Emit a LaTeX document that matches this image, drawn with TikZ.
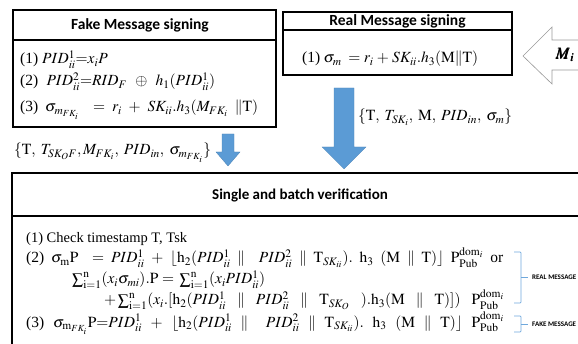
\documentclass[tikz,border=0pt]{standalone}
\usepackage{amsmath}
\usepackage{mathptmx}
\usepackage{bm}
\usepackage{fontspec}
\setmainfont{Liberation Serif}
\newfontfamily\titlefont{Carlito}
\usetikzlibrary{positioning}

\definecolor{arrowblue}{HTML}{5B9BD5}
\definecolor{braceblue}{HTML}{6FA8DC}

% one text line spread over a given width
\newcommand\spreadline[2]{\hbox to #1{#2}}
\newcommand\G{\hskip 1pt plus 1fil}

\tikzset{
  thinbox/.style={draw=black, line width=1.3pt},
  thickbox/.style={draw=black, line width=2.4pt},
  boxtitle/.style={inner sep=0pt, font=\titlefont\bfseries\fontsize{15.5}{17}\selectfont},
  steptext/.style={anchor=base west, inner sep=0pt, font=\fontsize{14.5}{16}\selectfont},
  mathline/.style={steptext, font=\fontsize{15.5}{17}\selectfont},
  bluearrow/.style={fill=arrowblue, draw=arrowblue!85!black, line width=0.3pt},
  msgbrace/.style={draw=braceblue, line width=0.7pt, rounded corners=1pt},
  msglabel/.style={anchor=west, inner sep=0pt, font=\titlefont\bfseries\fontsize{7}{8}\selectfont}
}

\begin{document}
\begin{tikzpicture}[x=1pt, y=-1pt]
\useasboundingbox (0,0) rectangle (578,344);
% ---- fake message signing ----
\draw[thinbox, line width=1.8pt] (13,10) rectangle (276,127);
\draw[thinbox] (13,40) -- (276,40);
\node[boxtitle] (faketitle) at (140,25) {Fake Message signing};
\node[mathline] (fake1) at (20,64) {(1) $PID_{ii}^{1}{=}x_iP$};
\node[mathline] (fake2) at (20,86) {\spreadline{195pt}{(2)\G$PID_{ii}^{2}{=}RID_F\G{\oplus}\G h_1(PID_{ii}^{1})$}};
\node[mathline] (fake3) at (20,112) {\spreadline{238pt}{(3)\G$\sigma_{m_{FK_i}}\G\G{=}\G r_i\G{+}\G SK_{ii}.h_3(M_{FK_i}\G\|\mathrm{T})$}};
% ---- real message signing ----
\draw[thinbox] (283,12) rectangle (512,75);
\draw[thinbox] (283,30) -- (512,30);
\node[boxtitle] (realtitle) at (397.5,21) {Real Message signing};
\node[mathline] (real1) at (302,63) {\spreadline{176pt}{(1)\G$\sigma_m\G\G{=}\G r_i\G{+}\G SK_{ii}.h_3(\mathrm{M}\|\mathrm{T})$}};
% ---- incoming message ----
\draw[draw=gray!80, fill=white, line width=0.6pt]
  (590,40) -- (552,40) -- (552,27) -- (523,56) -- (552,84) -- (552,70) -- (590,70);
\node[inner sep=0pt, font=\fontsize{16}{18}\selectfont] (msg) at (565,55) {$\bm{M_i}$};
% ---- transmitted tuples ----
\filldraw[bluearrow] (222,134) -- (234,134) -- (234,152) -- (240,152)
  -- (228,166) -- (216,152) -- (222,152) -- cycle;
\filldraw[bluearrow] (334,88) -- (354,88) -- (354,147) -- (366,147)
  -- (344,169) -- (322,147) -- (334,147) -- cycle;
\node[mathline] (realtuple) at (358,121) {\spreadline{154pt}{$\{\mathrm{T},\G T_{SK_i},\G\mathrm{M},\G PID_{in},\G\sigma_m\}$}};
\node[mathline] (faketuple) at (14,155) {\spreadline{197pt}{$\{\mathrm{T},\G T_{SK_OF},M_{FK_i},\G PID_{in},\G\sigma_{m_{FK_i}}\}$}};
% ---- verification ----
\draw[thickbox] (590,173) -- (12,173) -- (12,350);
\draw[thinbox, line width=1.8pt] (12,216) -- (590,216);
\node[boxtitle, font=\titlefont\bfseries\fontsize{15}{17}\selectfont] (vertitle) at (300,195) {Single and batch verification};
\node[steptext] (ver1) at (26,243) {(1) Check timestamp T, Tsk};
\node[mathline] (ver2) at (26,263) {\spreadline{477pt}{(2)\G$\sigma_{\mathrm{m}}\mathrm{P}\G\G{=}\G PID_{ii}^{1}\G{+}\G\lfloor\mathrm{h}_2(PID_{ii}^{1}\G\|\G\G PID_{ii}^{2}\G\|\G\mathrm{T}_{SK_{ii}}).\G\mathrm{h}_3\G(\mathrm{M}\G\|\G\mathrm{T})\rfloor\G\mathrm{P}_{\mathrm{Pub}}^{\mathrm{dom}_i}$\G or}};
\node[mathline] (ver2b) at (72,284) {\spreadline{193pt}{$\sum_{\mathrm{i=1}}^{\mathrm{n}}(x_i\sigma_{mi}).\mathrm{P}\G{=}\G\sum_{\mathrm{i=1}}^{\mathrm{n}}(x_iPID_{ii}^{1})$}};
\node[mathline] (ver2c) at (104,305) {\spreadline{400pt}{$+\sum_{\mathrm{i=1}}^{\mathrm{n}}(x_i.[\mathrm{h}_2(PID_{ii}^{1}\G\|\G PID_{ii}^{2}\G\|\G\mathrm{T}_{SK_O}\G).\mathrm{h}_3(\mathrm{M}\G\|\G\mathrm{T})])\G\mathrm{P}_{\mathrm{Pub}}^{\mathrm{dom}_i}$}};
\node[mathline] (ver3) at (26,327) {\spreadline{478pt}{(3)\G$\sigma_{\mathrm{m}_{FK_i}}\mathrm{P}{=}PID_{ii}^{1}\G{+}\G\lfloor\mathrm{h}_2(PID_{ii}^{1}\G\|\G\G PID_{ii}^{2}\G\|\G\mathrm{T}_{SK_{ii}}).\G\mathrm{h}_3\G(\mathrm{M}\G\|\G\mathrm{T})\rfloor\G\mathrm{P}_{\mathrm{Pub}}^{\mathrm{dom}_i}$}};
% ---- message kinds ----
\draw[msgbrace] (514,252) -- (521,252) -- (521,303) -- (514,303);
\draw[msgbrace] (521,277) -- (528,277);
\node[msglabel] (reallabel) at (532,277) {REAL MESSAGE};
\draw[msgbrace] (514,316) -- (521,316) -- (521,332) -- (514,332);
\draw[msgbrace] (521,324) -- (528,324);
\node[msglabel] (fakelabel) at (532,324) {FAKE MESSAGE};
\end{tikzpicture}
\end{document}
